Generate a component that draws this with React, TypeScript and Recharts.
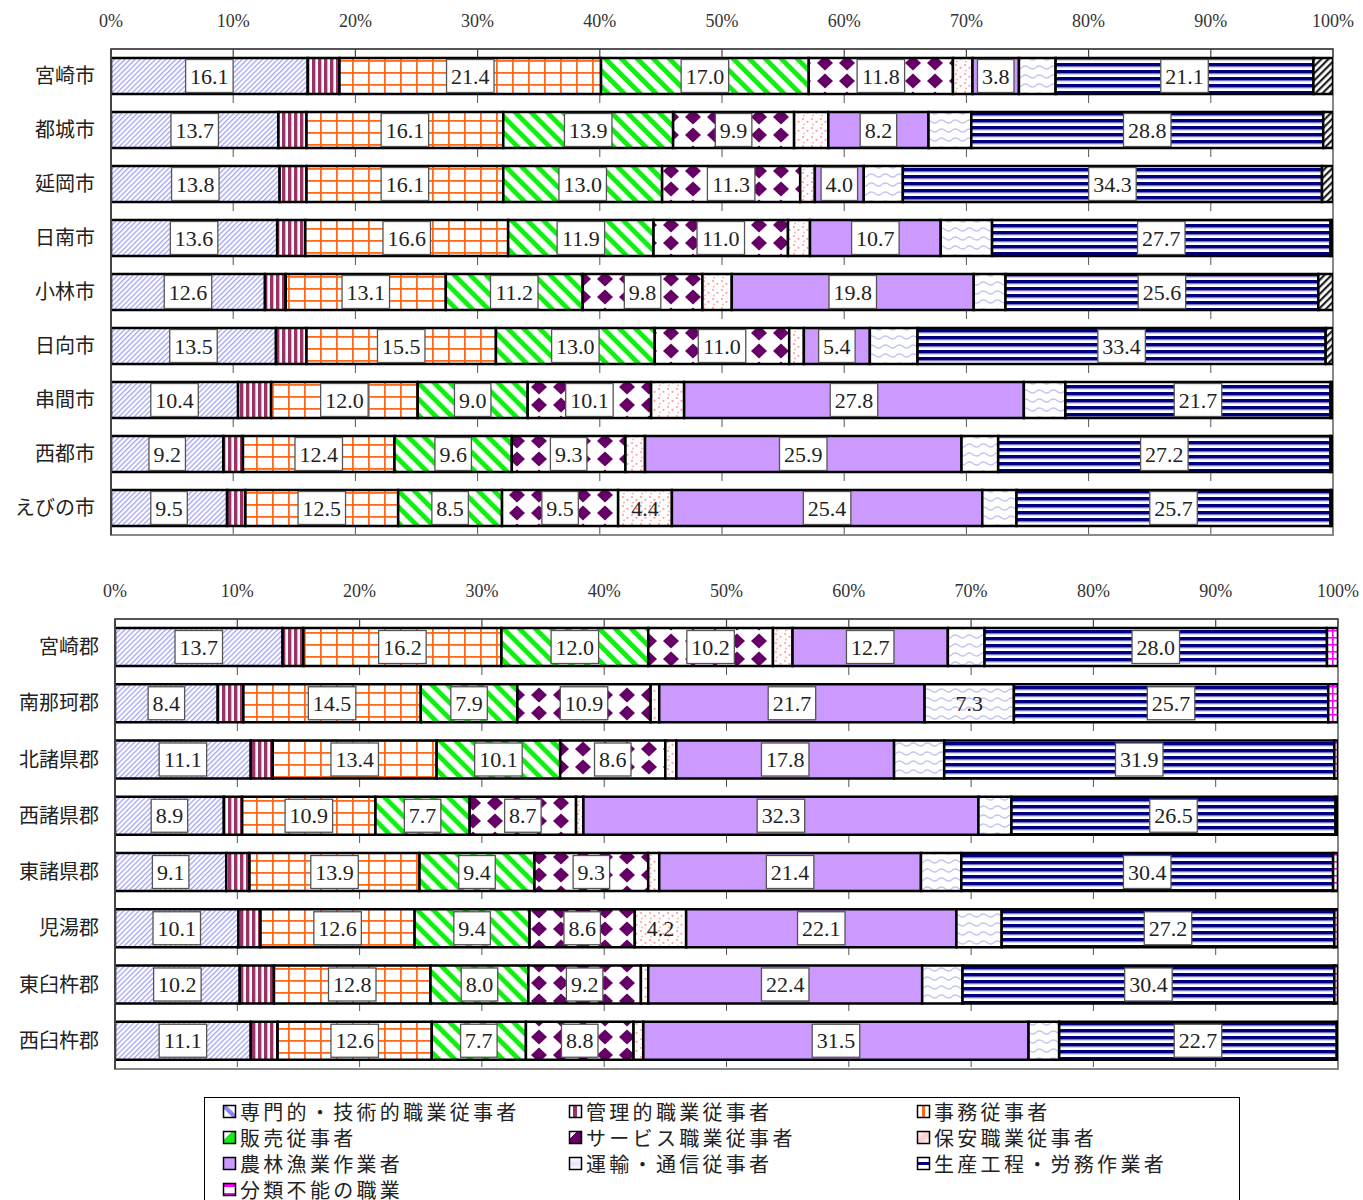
import React from 'react'
import { BarChart, Bar, XAxis, YAxis, CartesianGrid, LabelList, ReferenceArea } from 'recharts'

const FONT_SERIF = '"Liberation Serif", "DejaVu Serif", serif'
const FONT_JP = '"Noto Sans CJK JP", "Noto Sans CJK SC", sans-serif'

const seriesNames = [
  '専門的・技術的職業従事者',
  '管理的職業従事者',
  '事務従事者',
  '販売従事者',
  'サービス職業従事者',
  '保安職業従事者',
  '農林漁業作業者',
  '運輸・通信従事者',
  '生産工程・労務作業者',
  '分類不能の職業',
]

const percentTicks = [0, 10, 20, 30, 40, 50, 60, 70, 80, 90, 100]

// top chart: cities
const cityNames = ['宮崎市', '都城市', '延岡市', '日南市', '小林市', '日向市', '串間市', '西都市', 'えびの市']
const citySenmon = [16.1, 13.7, 13.8, 13.6, 12.6, 13.5, 10.4, 9.2, 9.5]
const cityKanri = [2.6, 2.3, 2.2, 2.3, 1.7, 2.5, 2.7, 1.6, 1.5]
const cityJimu = [21.4, 16.1, 16.1, 16.6, 13.1, 15.5, 12.0, 12.4, 12.5]
const cityHanbai = [17.0, 13.9, 13.0, 11.9, 11.2, 13.0, 9.0, 9.6, 8.5]
const cityService = [11.8, 9.9, 11.3, 11.0, 9.8, 11.0, 10.1, 9.3, 9.5]
const cityHoan = [1.6, 2.8, 1.2, 1.8, 2.4, 1.2, 2.7, 1.6, 4.4]
const cityNourin = [3.8, 8.2, 4.0, 10.7, 19.8, 5.4, 27.8, 25.9, 25.4]
const cityUnyu = [3.0, 3.5, 3.2, 4.2, 2.6, 3.9, 3.4, 3.0, 2.8]
const citySeisan = [21.1, 28.8, 34.3, 27.7, 25.6, 33.4, 21.7, 27.2, 25.7]
const cityBunrui = [1.6, 0.8, 0.9, 0.2, 1.2, 0.6, 0.2, 0.2, 0.2]

// bottom chart: districts
const gunNames = ['宮崎郡', '南那珂郡', '北諸県郡', '西諸県郡', '東諸県郡', '児湯郡', '東臼杵郡', '西臼杵郡']
const gunSenmon = [13.7, 8.4, 11.1, 8.9, 9.1, 10.1, 10.2, 11.1]
const gunKanri = [1.7, 2.1, 1.8, 1.5, 1.9, 1.8, 2.8, 2.2]
const gunJimu = [16.2, 14.5, 13.4, 10.9, 13.9, 12.6, 12.8, 12.6]
const gunHanbai = [12.0, 7.9, 10.1, 7.7, 9.4, 9.4, 8.0, 7.7]
const gunService = [10.2, 10.9, 8.6, 8.7, 9.3, 8.6, 9.2, 8.8]
const gunHoan = [1.6, 0.7, 0.9, 0.6, 0.9, 4.2, 0.6, 0.8]
const gunNourin = [12.7, 21.7, 17.8, 32.3, 21.4, 22.1, 22.4, 31.5]
const gunUnyu = [3.0, 7.3, 4.1, 2.7, 3.3, 3.7, 3.3, 2.5]
const gunSeisan = [28.0, 25.7, 31.9, 26.5, 30.4, 27.2, 30.4, 22.7]
const gunBunrui = [0.9, 0.8, 0.3, 0.2, 0.4, 0.3, 0.3, 0.1]

const cityColumns = [citySenmon, cityKanri, cityJimu, cityHanbai, cityService, cityHoan, cityNourin, cityUnyu, citySeisan, cityBunrui]
const gunColumns = [gunSenmon, gunKanri, gunJimu, gunHanbai, gunService, gunHoan, gunNourin, gunUnyu, gunSeisan, gunBunrui]

const buildRows = (names: string[], cols: number[][]) =>
  names.map((name, i) => {
    const row: Record<string, any> = { name }
    cols.forEach((c, si) => (row[`s${si}`] = c[i]))
    return row
  })

const cityRows = buildRows(cityNames, cityColumns)
const gunRows = buildRows(gunNames, gunColumns)

// fill + label rule per series
const seriesStyle = [
  { fill: 'url(#pSenmon)', boxed: true, min: 3 },
  { fill: 'url(#pKanri)', boxed: true, min: 99 },
  { fill: 'url(#pJimu)', boxed: true, min: 3 },
  { fill: 'url(#pHanbai)', boxed: true, min: 3 },
  { fill: 'url(#pService)', boxed: true, min: 3 },
  { fill: 'url(#pHoan)', boxed: false, min: 4 },
  { fill: '#cc99ff', boxed: true, min: 3.5 },
  { fill: 'url(#pUnyu)', boxed: false, min: 5 },
  { fill: 'url(#pSeisan)', boxed: true, min: 3 },
  { fill: 'url(#pBunruiTop)', boxed: false, min: 99 },
]

// small legend swatch marks
const swatchFills = [
  'url(#sSenmon)', 'url(#sKanri)', 'url(#sJimu)', 'url(#sHanbai)', 'url(#sService)',
  'url(#sHoan)', '#cc99ff', 'url(#sUnyu)', 'url(#sSeisan)', 'url(#sBunrui)',
]

function Patterns() {
  return (
    <svg width={0} height={0} style={{ position: 'absolute' }}>
      <defs>
        <pattern id="pSenmon" width={3.6} height={3.6} patternUnits="userSpaceOnUse" patternTransform="rotate(45)">
          <rect width={3.6} height={3.6} fill="#fff" />
          <rect width={1.4} height={3.6} fill="#a8a8f6" />
        </pattern>
        <pattern id="pKanri" width={6} height={10} patternUnits="userSpaceOnUse">
          <rect width={6} height={10} fill="#fff" />
          <rect width={3.3} height={10} fill="#993366" />
          <rect x={3.3} width={0.8} height={10} fill="#d8a8c0" />
        </pattern>
        <pattern id="pJimu" width={16} height={12} patternUnits="userSpaceOnUse">
          <rect width={16} height={12} fill="#fff" />
          <rect width={1.8} height={12} fill="#ff6a1a" />
          <rect width={16} height={1.8} fill="#ff6a1a" />
        </pattern>
        <pattern id="pHanbai" width={11.3} height={11.3} patternUnits="userSpaceOnUse" patternTransform="rotate(-45)">
          <rect width={11.3} height={11.3} fill="#fff" />
          <rect width={4.8} height={11.3} fill="#11ee11" />
        </pattern>
        <pattern id="pService" width={22} height={18} patternUnits="userSpaceOnUse">
          <rect width={22} height={18} fill="#fff" />
          <polygon points="11,1.5 19,9 11,16.5 3,9" fill="#660066" />
        </pattern>
        <pattern id="pHoan" width={9} height={9} patternUnits="userSpaceOnUse">
          <rect width={9} height={9} fill="#fff" />
          <circle cx={2} cy={2} r={1.1} fill="#ff9c9c" />
          <circle cx={6.5} cy={4.8} r={1.1} fill="#ff9c9c" />
          <circle cx={3} cy={7.6} r={1} fill="#ffb0b0" />
        </pattern>
        <pattern id="pUnyu" width={14} height={9} patternUnits="userSpaceOnUse">
          <rect width={14} height={9} fill="#fff" />
          <path d="M0 4.5 Q3.5 1.5 7 4.5 T14 4.5" stroke="#c4c4f4" strokeWidth={1.5} fill="none" />
        </pattern>
        <pattern id="pSeisan" width={10} height={7} patternUnits="userSpaceOnUse">
          <rect width={10} height={7} fill="#fff" />
          <rect width={10} height={3.6} fill="#000080" />
          <rect y={3.6} width={10} height={0.8} fill="#9a9acc" />
        </pattern>
        <pattern id="pBunruiTop" width={5} height={5} patternUnits="userSpaceOnUse" patternTransform="rotate(45)">
          <rect width={5} height={5} fill="#fff" />
          <rect width={2.2} height={5} fill="#222" />
        </pattern>
        <pattern id="pBunruiBottom" width={6} height={7} patternUnits="userSpaceOnUse">
          <rect width={6} height={7} fill="#fff" />
          <rect width={1.6} height={7} fill="#ff00ff" />
          <rect width={6} height={1.6} fill="#ff00ff" />
        </pattern>

        {/* legend swatch versions */}
        <linearGradient id="sSenmon" x1="0" y1="1" x2="1" y2="0">
          <stop offset="0" stopColor="#fff" />
          <stop offset="0.35" stopColor="#fff" />
          <stop offset="0.4" stopColor="#8888ee" />
          <stop offset="0.6" stopColor="#8888ee" />
          <stop offset="0.65" stopColor="#fff" />
          <stop offset="1" stopColor="#fff" />
        </linearGradient>
        <linearGradient id="sKanri" x1="0" y1="0" x2="1" y2="0">
          <stop offset="0" stopColor="#fff" />
          <stop offset="0.3" stopColor="#fff" />
          <stop offset="0.3" stopColor="#993366" />
          <stop offset="0.65" stopColor="#993366" />
          <stop offset="0.65" stopColor="#fff" />
          <stop offset="1" stopColor="#fff" />
        </linearGradient>
        <linearGradient id="sJimu" x1="0" y1="0" x2="1" y2="0">
          <stop offset="0" stopColor="#fff" />
          <stop offset="0.4" stopColor="#fff" />
          <stop offset="0.4" stopColor="#ff6a1a" />
          <stop offset="0.6" stopColor="#ff6a1a" />
          <stop offset="0.6" stopColor="#fff" />
          <stop offset="1" stopColor="#fff" />
        </linearGradient>
        <linearGradient id="sHanbai" x1="0" y1="0" x2="1" y2="1">
          <stop offset="0" stopColor="#fff" />
          <stop offset="0.35" stopColor="#fff" />
          <stop offset="0.35" stopColor="#11ee11" />
          <stop offset="1" stopColor="#11ee11" />
        </linearGradient>
        <linearGradient id="sService" x1="0" y1="0" x2="1" y2="1">
          <stop offset="0" stopColor="#fff" />
          <stop offset="0.3" stopColor="#fff" />
          <stop offset="0.3" stopColor="#660066" />
          <stop offset="1" stopColor="#660066" />
        </linearGradient>
        <linearGradient id="sHoan" x1="0" y1="0" x2="1" y2="1">
          <stop offset="0" stopColor="#fff" />
          <stop offset="0.45" stopColor="#ffd0d0" />
          <stop offset="0.55" stopColor="#ffd0d0" />
          <stop offset="1" stopColor="#fff" />
        </linearGradient>
        <linearGradient id="sUnyu" x1="0" y1="0" x2="0" y2="1">
          <stop offset="0" stopColor="#fff" />
          <stop offset="0.5" stopColor="#e4e4fa" />
          <stop offset="1" stopColor="#fff" />
        </linearGradient>
        <linearGradient id="sSeisan" x1="0" y1="0" x2="0" y2="1">
          <stop offset="0" stopColor="#fff" />
          <stop offset="0.35" stopColor="#fff" />
          <stop offset="0.35" stopColor="#000080" />
          <stop offset="0.65" stopColor="#000080" />
          <stop offset="0.65" stopColor="#fff" />
          <stop offset="1" stopColor="#fff" />
        </linearGradient>
        <linearGradient id="sBunrui" x1="0" y1="0" x2="0" y2="1">
          <stop offset="0" stopColor="#ff00ff" />
          <stop offset="0.25" stopColor="#ff00ff" />
          <stop offset="0.25" stopColor="#fff" />
          <stop offset="0.75" stopColor="#fff" />
          <stop offset="0.75" stopColor="#ff00ff" />
          <stop offset="1" stopColor="#ff00ff" />
        </linearGradient>
      </defs>
    </svg>
  )
}

const makeLabel = (boxed: boolean, min: number) => (props: any) => {
  const vb = props.viewBox ?? props
  const { x, y, width, height } = vb
  const v = Number(props.value)
  if (!(v >= min)) return null
  const text = v.toFixed(1)
  const cx = x + width / 2
  const cy = y + height / 2
  const tw = (text.length - 1) * 11 + 5.5
  const bw = tw + 9
  const bh = Math.min(33, height - 3)
  return (
    <g>
      {boxed && (
        <rect x={cx - bw / 2} y={cy - bh / 2} width={bw} height={bh} fill="#fff" stroke="#555" strokeWidth={1.3} />
      )}
      <text x={cx} y={cy + 7.5} textAnchor="middle" fontSize={22} fontFamily={FONT_SERIF} fill="#222">
        {text}
      </text>
    </g>
  )
}

const TopTick = (props: any) => {
  const { x, y, payload } = props
  return (
    <g>
      <line x1={x} x2={x} y1={y} y2={y + 8} stroke="#444" strokeWidth={1.2} />
      <text x={x} y={y - 22} textAnchor="middle" fontSize={18} fontFamily={FONT_SERIF} fill="#333">
        {payload.value}%
      </text>
    </g>
  )
}

interface StackChartProps {
  rows: Record<string, any>[]
  top: number
  height: number
  margin: { top: number; right: number; left: number; bottom: number }
  bunruiFill: string
  gridDash: string
}

function StackChart({ rows, top, height, margin, bunruiFill, gridDash }: StackChartProps) {
  return (
    <div style={{ position: 'absolute', left: 0, top }}>
      <BarChart width={1363} height={height} data={rows} layout="vertical" margin={margin} barCategoryGap={9}>
        <CartesianGrid horizontal={false} stroke="#555" strokeDasharray={gridDash} />
        <XAxis
          type="number"
          orientation="top"
          domain={[0, 100]}
          allowDataOverflow
          ticks={percentTicks}
          height={30}
          tickSize={0}
          tickMargin={0}
          tickLine={false}
          axisLine={{ stroke: '#555', strokeWidth: 2 }}
          tick={<TopTick />}
        />
        <YAxis
          type="category"
          dataKey="name"
          width={100}
          tickSize={0}
          tickMargin={16}
          tickLine={false}
          axisLine={{ stroke: '#444', strokeWidth: 2 }}
          tick={{ fontSize: 20, fill: '#222', fontFamily: FONT_JP }}
        />
        {seriesNames.map((nm, si) => (
          <Bar
            key={nm}
            dataKey={`s${si}`}
            name={nm}
            stackId="a"
            fill={si === 9 ? bunruiFill : seriesStyle[si].fill}
            stroke="#000"
            strokeWidth={2.5}
            isAnimationActive={false}
          >
            <LabelList dataKey={`s${si}`} content={makeLabel(seriesStyle[si].boxed, seriesStyle[si].min)} />
          </Bar>
        ))}
        <ReferenceArea x1={0} x2={100} fill="none" stroke="#888" strokeWidth={2} ifOverflow="visible" />
      </BarChart>
    </div>
  )
}

const legendCols = [222, 568, 916]

function LegendBox() {
  return (
    <div
      style={{
        position: 'absolute',
        left: 204,
        top: 1097,
        width: 1036,
        height: 103,
        borderTop: '1px solid #000',
        borderLeft: '1px solid #000',
        borderRight: '1px solid #000',
        boxSizing: 'border-box',
        overflow: 'hidden',
      }}
    >
      {seriesNames.map((nm, si) => {
        const col = si % 3
        const row = Math.floor(si / 3)
        return (
          <div
            key={nm}
            style={{
              position: 'absolute',
              left: legendCols[col] - 205,
              top: 1 + row * 26,
              height: 26,
              lineHeight: '26px',
              display: 'flex',
              alignItems: 'center',
              fontFamily: FONT_JP,
              fontSize: 20,
              letterSpacing: 3.3,
              color: '#222',
              whiteSpace: 'nowrap',
            }}
          >
            <svg width={16} height={16} style={{ marginRight: 2 }}>
              <rect x={1.5} y={1.5} width={12} height={12} fill={swatchFills[si]} stroke="#000" strokeWidth={1.5} />
            </svg>
            {nm}
          </div>
        )
      })}
    </div>
  )
}

export default function App() {
  return (
    <div style={{ position: 'absolute', left: 0, top: 0, width: 1363, height: 1200, background: '#fff', overflow: 'hidden' }}>
      <Patterns />
      <StackChart
        rows={cityRows}
        top={0}
        height={545}
        margin={{ top: 19, right: 30, left: 11, bottom: 10 }}
        bunruiFill="url(#pBunruiTop)"
        gridDash="0 46 8 0"
      />
      <StackChart
        rows={gunRows}
        top={560}
        height={520}
        margin={{ top: 29, right: 25, left: 15, bottom: 11 }}
        bunruiFill="url(#pBunruiBottom)"
        gridDash="0 48 8 0"
      />
      <LegendBox />
    </div>
  )
}
